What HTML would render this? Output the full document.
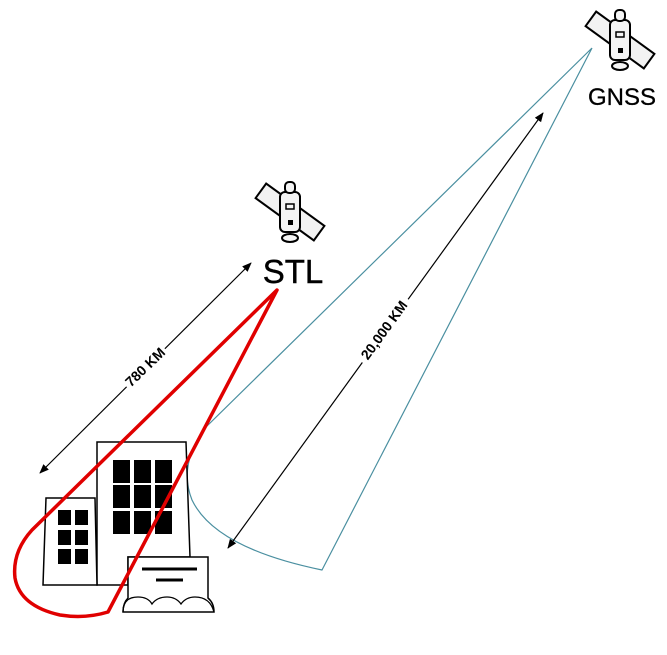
<!DOCTYPE html>
<html><head><style>body{margin:0;background:#fff}</style></head><body>
<svg width="667" height="650" viewBox="0 0 667 650" xmlns="http://www.w3.org/2000/svg">
<defs>
<marker id="a" viewBox="0 0 10 10" refX="9" refY="5" markerWidth="8" markerHeight="8" orient="auto-start-reverse"><path d="M0,1 L10,5 L0,9 z" fill="#000"/></marker>
<g id="sat">
<rect x="-36" y="-9" width="72" height="18" fill="#f2f2f2" stroke="#000" stroke-width="2" transform="rotate(36)"/>
<rect x="-10" y="-20" width="20" height="40" rx="5" fill="#f4f4f4" stroke="#000" stroke-width="2"/>
<rect x="-5" y="-30" width="10" height="11" rx="4" fill="#f4f4f4" stroke="#000" stroke-width="2"/>
<ellipse cx="0" cy="26" rx="8" ry="4" fill="#f4f4f4" stroke="#000" stroke-width="2"/>
<rect x="-4" y="-8" width="8" height="5" fill="none" stroke="#000" stroke-width="1.5"/>
<rect x="-2" y="8" width="5" height="5" fill="#000"/>
</g>
</defs>
<use href="#sat" x="290" y="212"/>
<use href="#sat" x="620" y="40"/>
<text x="293" y="283" font-family="Liberation Sans, sans-serif" font-size="33" text-anchor="middle" stroke="#000" stroke-width="0.4">STL</text>
<text x="622" y="105" font-family="Liberation Sans, sans-serif" font-size="24" text-anchor="middle" stroke="#000" stroke-width="0.3">GNSS</text>
<path d="M592,48 L205,428 Q178,465 192,500 Q215,548 322,570 L592,48" fill="none" stroke="#4a8fa0" stroke-width="1.2"/>
<line x1="40" y1="473" x2="251" y2="263" stroke="#000" stroke-width="1.2" marker-start="url(#a)" marker-end="url(#a)"/>
<line x1="228" y1="548" x2="543" y2="113" stroke="#000" stroke-width="1.2" marker-start="url(#a)" marker-end="url(#a)"/>
<rect x="118" y="359" width="54" height="16" fill="#fff" transform="rotate(-44 145 367)"/>
<text x="145" y="372" font-family="Liberation Sans, sans-serif" font-size="14" font-weight="bold" text-anchor="middle" transform="rotate(-44 145 367)">780 KM</text>
<rect x="345" y="322" width="78" height="16" fill="#fff" transform="rotate(-54 384 330)"/>
<text x="384" y="335" font-family="Liberation Sans, sans-serif" font-size="14" font-weight="bold" text-anchor="middle" transform="rotate(-54 384 330)">20,000 KM</text>
<g stroke="#000" stroke-width="1.5" fill="#fff">
<path d="M97,442 L186,442 L190,557 L128,557 L128,585 L97,585 Z"/>
<path d="M46,498 L95,498 L97,585 L43,585 Z"/>
</g>
<g fill="#000">
<rect x="113" y="460" width="17" height="23"/><rect x="134" y="460" width="17" height="23"/><rect x="155" y="460" width="17" height="23"/>
<rect x="113" y="485" width="17" height="23"/><rect x="134" y="485" width="17" height="23"/><rect x="155" y="485" width="17" height="23"/>
<rect x="113" y="511" width="17" height="23"/><rect x="134" y="511" width="17" height="23"/><rect x="155" y="511" width="17" height="23"/>
<rect x="58" y="510" width="13" height="15"/><rect x="75" y="510" width="13" height="15"/>
<rect x="58" y="530" width="13" height="15"/><rect x="75" y="530" width="13" height="15"/>
<rect x="58" y="549" width="13" height="15"/><rect x="75" y="549" width="13" height="15"/>
</g>
<path d="M128,557 L208,557 L208,598 Q214,603 214,612 L123,612 Q123,603 128,598 Z" fill="#fff" stroke="#000" stroke-width="1.5"/>
<path d="M123,612 Q123,597 138,597 Q148,597 152,604 Q157,597 167,597 Q176,597 181,604 Q186,597 195,597 Q210,597 214,612" fill="none" stroke="#000" stroke-width="1.3"/>
<line x1="142" y1="569" x2="197" y2="569" stroke="#000" stroke-width="3"/>
<line x1="156" y1="580" x2="183" y2="580" stroke="#000" stroke-width="3"/>
<path d="M277,290 L32,530 Q12,552 15,578 Q20,606 60,615 Q85,619 108,612 Z" fill="none" stroke="#e00000" stroke-width="3.5" stroke-linejoin="round"/>
</svg>
</body></html>
